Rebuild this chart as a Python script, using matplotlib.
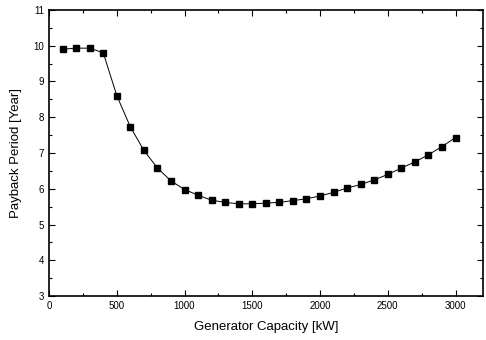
import matplotlib
matplotlib.use('Agg')
import matplotlib.pyplot as plt
from matplotlib.ticker import MultipleLocator

plt.rcParams['font.family'] = ['Liberation Sans', 'DejaVu Sans']

# generator capacity [kW] vs payback period [year]
capacity = [100, 200, 300, 400, 500, 600, 700, 800, 900, 1000,
            1100, 1200, 1300, 1400, 1500, 1600, 1700, 1800, 1900, 2000,
            2100, 2200, 2300, 2400, 2500, 2600, 2700, 2800, 2900, 3000]
payback = [9.90, 9.93, 9.93, 9.80, 8.60, 7.73, 7.07, 6.58, 6.22, 5.98,
           5.82, 5.68, 5.62, 5.58, 5.58, 5.60, 5.62, 5.67, 5.72, 5.80,
           5.90, 6.02, 6.12, 6.25, 6.40, 6.58, 6.75, 6.95, 7.18, 7.43]

fig = plt.figure(figsize=(4.86, 3.4), dpi=100)
ax = fig.add_axes([0.101, 0.129, 0.892, 0.842])

ax.plot(capacity, payback, color='black', lw=0.7, marker='s', ms=5,
        markerfacecolor='black', markeredgecolor='black')

ax.set_xlim(0, 3200)
ax.set_ylim(3, 11)
ax.xaxis.set_major_locator(MultipleLocator(500))
ax.xaxis.set_minor_locator(MultipleLocator(250))
ax.yaxis.set_major_locator(MultipleLocator(1))
ax.yaxis.set_minor_locator(MultipleLocator(0.5))
ax.tick_params(which='both', direction='in', top=True, right=True,
               labelsize=7, width=0.8)
ax.tick_params(which='major', length=4)
ax.tick_params(which='minor', length=2)
for s in ax.spines.values():
    s.set_linewidth(1.2)

ax.set_xlabel('Generator Capacity [kW]', fontsize=9.5, labelpad=7)
ax.set_ylabel('Payback Period [Year]', fontsize=9.5, labelpad=8)

fig.savefig('out.png', dpi=100)
